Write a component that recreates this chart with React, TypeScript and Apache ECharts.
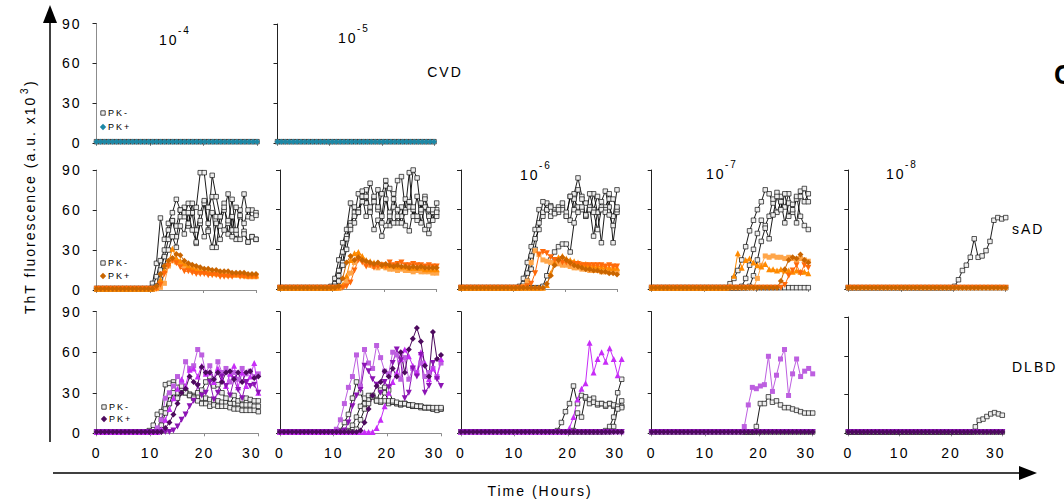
import React, { useEffect, useRef } from "react";
import * as echarts from "echarts";

// ---- sampling ----
const STEP_H = 0.75; // hours between reads
const N_POINTS = 41; // 0 .. 30 h
const BASE = 1; // flat baseline reading
const X_TICK_LABELS = ["0", "10", "20", "30"];
const Y_TICK_LABELS = ["0", "30", "60", "90"];

// ---- sAD 10^-4 (onset index, then values) ----
const SAD_E4_NEG_A = [5, 20, 54, 38, 45, 52, 40, 55, 62, 48, 58, 35, 50, 65, 45, 58, 32, 55, 65, 42, 55, 38, 60, 44, 36, 40, 38];
const SAD_E4_NEG_B = [2, 10, 22, 30, 50, 58, 68, 60, 55, 65, 58, 62, 88, 88, 62, 70, 55, 48, 60, 72, 45, 62, 55, 72, 55, 60, 58];
const SAD_E4_NEG_C = [3, 15, 25, 38, 52, 48, 60, 58, 50, 65, 45, 58, 67, 50, 86, 70, 55, 62, 50, 68, 42, 56, 50, 60, 54, 56];
const SAD_E4_NEG_D = [2, 8, 18, 30, 40, 32, 48, 42, 58, 45, 36, 52, 40, 44, 32, 50, 38, 45, 52, 40, 45, 38, 42, 36, 40, 38];
const SAD_E4_DIA = [3, 12, 18, 22, 24, 27, 26, 22, 20, 19, 18, 17, 16, 16, 15, 15, 14, 14, 14, 13, 13, 13, 13, 12, 12, 12];
const SAD_E4_TRI = [2, 8, 15, 20, 31, 24, 22, 20, 18, 17, 16, 15, 14, 14, 13, 13, 13, 12, 12, 12, 12, 12, 11, 11, 11, 11];
const SAD_E4_SQ = [2, 5, 18, 22, 21, 20, 18, 17, 16, 15, 14, 14, 13, 13, 12, 12, 12, 11, 11, 11, 11, 11, 10, 10, 10];
const SAD_E4_DOWN = [1, 4, 12, 18, 22, 20, 17, 14, 14, 13, 12, 12, 12, 11, 11, 11, 10, 10, 10, 10, 11, 10, 10, 10, 10, 10];

// ---- sAD 10^-5 ----
const SAD_E5_NEG_A = [2, 8, 22, 35, 45, 65, 58, 60, 70, 75, 60, 68, 75, 55, 78, 48, 62, 82, 85, 60, 88, 55, 70, 50, 62, 48, 58, 60];
const SAD_E5_NEG_B = [4, 14, 28, 40, 50, 55, 72, 74, 65, 80, 70, 60, 72, 82, 76, 68, 50, 55, 68, 62, 90, 84, 58, 70, 60, 52, 65];
const SAD_E5_NEG_C = [2, 10, 20, 38, 48, 62, 58, 70, 55, 62, 45, 52, 40, 48, 58, 50, 55, 62, 48, 44, 60, 52, 65, 45, 42, 58, 55];
const SAD_E5_NEG_D = [1, 6, 18, 30, 45, 50, 58, 66, 70, 58, 66, 62, 50, 68, 55, 72, 60, 50, 58, 66, 62, 55, 60, 68, 55, 60, 58];
const SAD_E5_DIA = [2, 8, 20, 25, 22, 24, 22, 21, 20, 19, 20, 18, 19, 18, 17, 18, 17, 17, 16, 17, 16, 17, 16, 16, 16, 16];
const SAD_E5_TRI = [3, 10, 22, 27, 28, 25, 22, 21, 20, 19, 19, 18, 18, 18, 17, 17, 17, 16, 16, 16, 16, 15, 15, 15, 15];
const SAD_E5_SQ = [2, 6, 12, 20, 24, 22, 19, 18, 17, 16, 17, 16, 15, 15, 14, 15, 14, 14, 13, 14, 13, 13, 13, 12, 12];
const SAD_E5_DOWN = [2, 5, 14, 22, 20, 17, 18, 16, 17, 18, 17, 20, 18, 19, 20, 18, 18, 19, 18, 18, 17, 18, 17, 17];

// ---- sAD 10^-6 ----
const SAD_E6_NEG_A = [2, 8, 20, 32, 45, 60, 55, 65, 63, 60, 58, 62, 55, 70, 72, 84, 70, 65, 60, 72, 58, 66, 74, 62, 55, 75];
const SAD_E6_NEG_B = [4, 12, 25, 38, 45, 58, 60, 55, 58, 62, 60, 58, 52, 68, 62, 60, 55, 62, 40, 58, 35, 62, 68, 35, 58];
const SAD_E6_NEG_C = [2, 6, 15, 30, 50, 66, 60, 62, 57, 60, 65, 55, 70, 60, 75, 68, 55, 72, 60, 70, 62, 60, 72, 68, 60];
const SAD_E6_NEG_D = [2, 10, 22, 28, 32, 34, 34, 28, 50, 58, 62, 56, 60, 58, 45, 60, 58, 56, 48, 62];
const SAD_E6_DIA = [1, 4, 10, 18, 22, 24, 22, 20, 18, 17, 16, 15, 15, 14, 14, 13, 13, 12, 12, 11];
const SAD_E6_TRI = [3, 12, 20, 24, 25, 23, 22, 21, 20, 19, 19, 18, 18, 17, 17, 17, 16, 16, 16];
const SAD_E6_SQ = [2, 6, 20, 29, 26, 22, 21, 20, 20, 19, 18, 18, 17, 16, 16, 15, 15, 14, 14, 14, 13, 13, 13, 13, 13];
const SAD_E6_DOWN = [2, 4, 12, 26, 28, 27, 24, 22, 21, 20, 20, 19, 19, 19, 18, 18, 18, 18, 18, 18, 17, 18, 17, 17];

// ---- sAD 10^-7 ----
const SAD_E7_NEG_A = [1, 4, 8, 14, 22, 32, 44, 52, 60, 66, 75, 72, 65, 73, 70, 62, 72, 58, 68, 74, 66, 72];
const SAD_E7_NEG_B = [2, 8, 18, 30, 42, 52, 48, 55, 68, 58, 66, 50, 65, 60, 70, 55, 48, 45];
const SAD_E7_NEG_C = [2, 10, 22, 36, 46, 38, 56, 70, 60, 72, 55, 64, 50, 70, 76, 66];
const SAD_E7_DIA = [1, 6, 15, 22, 24, 23, 26, 22, 20];
const SAD_E7_TRI = [2, 10, 27, 16, 22, 23, 20, 18, 17, 19, 15, 15, 14, 15, 14, 14, 13, 14, 13, 13, 12];
const SAD_E7_SQ = [1, 8, 18, 25, 24, 25, 24, 24, 23, 24, 23, 22, 23, 22, 21];
const SAD_E7_DOWN = [1, 3, 10, 14, 18, 12, 18, 16];

// ---- sAD 10^-8 ----
const SAD_E8_NEG_A = [2, 7, 14, 18, 24, 38, 24, 25, 29, 36, 52, 54, 53, 54];

// ---- DLBD 10^-4 ----
const DL_E4_NEG_A = [2, 6, 14, 16, 36, 37, 38, 30, 32, 30, 29, 28, 27, 26, 26, 25, 24, 24, 23, 23, 22, 22, 22, 21, 21, 21, 20, 20];
const DL_E4_NEG_B = [3, 10, 18, 28, 36, 34, 30, 32, 28, 27, 30, 32, 38, 42, 35, 36, 30, 26, 22, 28, 24, 25, 26, 25, 24, 24];
const DL_E4_NEG_C = [2, 6, 15, 22, 30, 26, 35, 30, 28, 26, 24, 22, 22, 20, 21, 20, 20, 20, 19, 18, 18, 17, 17, 17, 17, 16];
const DL_E4_SQ = [4, 10, 26, 30, 35, 42, 38, 53, 48, 50, 62, 58, 45, 50, 40, 53, 45, 48, 38, 45, 40, 48, 44, 46, 42, 44];
const DL_E4_TRI = [3, 10, 18, 26, 33, 40, 35, 47, 48, 42, 50, 44, 45, 38, 48, 40, 35, 44, 50, 34, 45, 35, 42, 52, 30];
const DL_E4_DIA = [1, 4, 8, 14, 22, 30, 33, 42, 38, 36, 49, 45, 45, 40, 45, 38, 45, 46, 40, 45, 38, 45, 46, 41, 42];
const DL_E4_DOWN = [2, 5, 10, 14, 20, 24, 35, 28, 30, 38, 25, 30, 42, 35, 28, 40, 32, 26, 38, 35, 36, 30];

// ---- DLBD 10^-5 ----
const DL_E5_NEG_A = [2, 8, 14, 26, 38, 30, 22, 25, 27, 24, 23, 24, 22, 23, 22, 21, 22, 21, 20, 20, 19, 19, 19, 18, 18, 18];
const DL_E5_NEG_B = [2, 6, 12, 20, 26, 28, 27, 25, 24, 30, 24, 23, 22, 22, 22, 21, 20, 20, 20, 19, 19, 18, 17, 18];
const DL_E5_NEG_C = [1, 3, 10, 18, 22, 28, 24, 32, 34, 32, 24, 23, 22, 22, 21, 21, 20, 20, 19, 19, 19, 19, 19];
const DL_E5_SQ = [3, 10, 22, 34, 42, 58, 35, 62, 52, 48, 65, 56, 46, 44, 60, 58, 40, 56, 40, 48, 45, 52, 42, 45, 48, 42, 52];
const DL_E5_DIA = [2, 8, 18, 28, 35, 38, 46, 42, 48, 42, 60, 45, 62, 70, 78, 68, 50, 42, 75, 55, 58];
const DL_E5_DOWN = [2, 8, 20, 28, 32, 50, 46, 40, 36, 30, 38, 34, 52, 62, 54, 26, 30, 48, 42, 58, 30, 35, 52, 40, 35];
const DL_E5_TRI = [1, 4, 10, 20, 30, 38, 45, 55, 62, 57, 50, 45, 60, 52, 40, 48, 42, 55];

// ---- DLBD 10^-6 ----
const DL_E6_NEG_A = [2, 8, 16, 22, 35, 22, 28, 26, 22, 26, 21, 22, 20, 22, 20, 19, 20];
const DL_E6_NEG_B = [2, 15, 12, 27, 25, 23, 22, 22, 21, 22, 21, 20, 19];
const DL_E6_NEG_C = [1, 2, 5, 12, 30, 40];
const DL_E6_NEG_D = [1, 5, 18, 24];
const DL_E6_TRI = [1, 4, 12, 25, 33, 37, 67, 45, 55, 60, 53, 63, 55, 43, 55];

// ---- DLBD 10^-7 ----
const DL_E7_NEG_A = [1, 5, 22, 22, 27, 23, 24, 21, 19, 19, 18, 17, 16, 15, 15, 15];
const DL_E7_SQ = [1, 5, 21, 34, 33, 35, 36, 57, 31, 43, 55, 62, 28, 44, 55, 42, 46, 48, 44];

// ---- DLBD 10^-8 ----
const DL_E8_NEG_A = [1, 5, 10, 11, 13, 15, 16, 15, 14];

const FLAT: number[] = [];

type StyleDef = { line: string; fill: string; border: string; bw: number; symbol: string; size: number; rotate?: number; lw: number };
const STYLES: Record<string, StyleDef> = {
  neg: { line: "#000000", fill: "#eeeeee", border: "#111111", bw: 0.7, symbol: "rect", size: 4.5, lw: 0.9 },
  teal: { line: "#1d88a6", fill: "#1d88a6", border: "#1d88a6", bw: 0, symbol: "diamond", size: 6, lw: 1 },
  oDia: { line: "#c96500", fill: "#c96500", border: "#c96500", bw: 0, symbol: "diamond", size: 6, lw: 1 },
  oTri: { line: "#ff8a00", fill: "#ff8a00", border: "#ff8a00", bw: 0, symbol: "triangle", size: 6, lw: 1 },
  oSq: { line: "#ffa64a", fill: "#ffa64a", border: "#ffa64a", bw: 0, symbol: "rect", size: 5, lw: 1 },
  oDown: { line: "#ff6a0a", fill: "#ff6a0a", border: "#ff6a0a", bw: 0, symbol: "triangle", size: 6, rotate: 180, lw: 1 },
  pDia: { line: "#4d0a5e", fill: "#4d0a5e", border: "#4d0a5e", bw: 0, symbol: "diamond", size: 6, lw: 1 },
  pDown: { line: "#8c14b4", fill: "#8c14b4", border: "#8c14b4", bw: 0, symbol: "triangle", size: 6, rotate: 180, lw: 1 },
  pTri: { line: "#c72cf7", fill: "#c72cf7", border: "#c72cf7", bw: 0, symbol: "triangle", size: 6, lw: 1 },
  pSq: { line: "#bd5fe0", fill: "#bd5fe0", border: "#bd5fe0", bw: 0, symbol: "rect", size: 5, lw: 1 },
};

// [styleKey, onset index, values]
type Trace = [string, number, number[]];
const PANELS: { row: number; col: number; box: [number, number, number, number]; traces: Trace[] }[] = [
  { row: 1, col: 1, box: [96.5, 23.5, 160.5, 119.5], traces: [["neg", N_POINTS, FLAT], ["teal", N_POINTS, FLAT]] },
  { row: 1, col: 2, box: [277.5, 24, 156.5, 119], traces: [["neg", N_POINTS, FLAT], ["teal", N_POINTS, FLAT]] },
  {
    row: 2, col: 1, box: [96.7, 170, 159.3, 120],
    traces: [["neg", 14, SAD_E4_NEG_A], ["neg", 14, SAD_E4_NEG_B], ["neg", 15, SAD_E4_NEG_C], ["neg", 15, SAD_E4_NEG_D],
      ["oSq", 16, SAD_E4_SQ], ["oTri", 15, SAD_E4_TRI], ["oDown", 15, SAD_E4_DOWN], ["oDia", 15, SAD_E4_DIA]],
  },
  {
    row: 2, col: 2, box: [280, 170, 156.7, 119],
    traces: [["neg", 13, SAD_E5_NEG_A], ["neg", 14, SAD_E5_NEG_B], ["neg", 14, SAD_E5_NEG_C], ["neg", 14, SAD_E5_NEG_D],
      ["oSq", 16, SAD_E5_SQ], ["oTri", 16, SAD_E5_TRI], ["oDown", 17, SAD_E5_DOWN], ["oDia", 15, SAD_E5_DIA]],
  },
  {
    row: 2, col: 3, box: [461, 170, 156, 119],
    traces: [["neg", 15, SAD_E6_NEG_A], ["neg", 16, SAD_E6_NEG_B], ["neg", 16, SAD_E6_NEG_C], ["neg", 21, SAD_E6_NEG_D],
      ["oSq", 16, SAD_E6_SQ], ["oTri", 22, SAD_E6_TRI], ["oDown", 17, SAD_E6_DOWN], ["oDia", 21, SAD_E6_DIA]],
  },
  {
    row: 2, col: 4, box: [651.7, 170, 156.6, 119],
    traces: [["neg", N_POINTS, FLAT], ["neg", 19, SAD_E7_NEG_A], ["neg", 23, SAD_E7_NEG_B], ["neg", 25, SAD_E7_NEG_C],
      ["oSq", 26, SAD_E7_SQ], ["oTri", 20, SAD_E7_TRI], ["oDown", 33, SAD_E7_DOWN], ["oDia", 32, SAD_E7_DIA]],
  },
  {
    row: 2, col: 5, box: [848.3, 170, 157.4, 119],
    traces: [["neg", N_POINTS, FLAT], ["neg", 27, SAD_E8_NEG_A], ["oSq", N_POINTS, FLAT], ["oDown", N_POINTS, FLAT], ["oDia", N_POINTS, FLAT]],
  },
  {
    row: 3, col: 1, box: [96.7, 311.7, 161.6, 121.6],
    traces: [["neg", 13, DL_E4_NEG_A], ["neg", 15, DL_E4_NEG_B], ["neg", 15, DL_E4_NEG_C],
      ["pSq", 15, DL_E4_SQ], ["pTri", 16, DL_E4_TRI], ["pDown", 19, DL_E4_DOWN], ["pDia", 16, DL_E4_DIA]],
  },
  {
    row: 3, col: 2, box: [280, 311.7, 161, 121.6],
    traces: [["neg", 15, DL_E5_NEG_A], ["neg", 17, DL_E5_NEG_B], ["neg", 18, DL_E5_NEG_C],
      ["pSq", 14, DL_E5_SQ], ["pTri", 23, DL_E5_TRI], ["pDown", 16, DL_E5_DOWN], ["pDia", 20, DL_E5_DIA]],
  },
  {
    row: 3, col: 3, box: [461, 311.7, 160.7, 121.6],
    traces: [["neg", 24, DL_E6_NEG_A], ["neg", 28, DL_E6_NEG_B], ["neg", 35, DL_E6_NEG_C], ["neg", 37, DL_E6_NEG_D],
      ["pTri", 26, DL_E6_TRI], ["pSq", N_POINTS, FLAT], ["pDown", N_POINTS, FLAT], ["pDia", N_POINTS, FLAT]],
  },
  {
    row: 3, col: 4, box: [651.7, 311.7, 161, 121.6],
    traces: [["neg", N_POINTS, FLAT], ["neg", 25, DL_E7_NEG_A], ["pSq", 22, DL_E7_SQ], ["pDown", N_POINTS, FLAT], ["pDia", N_POINTS, FLAT]],
  },
  {
    row: 3, col: 5, box: [848.3, 317, 154, 116.3],
    traces: [["neg", N_POINTS, FLAT], ["neg", 32, DL_E8_NEG_A], ["pDown", N_POINTS, FLAT], ["pDia", N_POINTS, FLAT]],
  },
];

const FONT = '"Liberation Sans", Arial, sans-serif';

function buildOption() {
  const times: number[] = [];
  for (let i = 0; i < N_POINTS; i++) times.push(i * STEP_H);

  const grid: any[] = [];
  const xAxis: any[] = [];
  const yAxis: any[] = [];
  const series: any[] = [];

  PANELS.forEach((p, gi) => {
    const [l, t, w, h] = p.box;
    grid.push({ left: l, top: t, width: w, height: h, containLabel: false });
    const xCol = "#8c8c8c";
    xAxis.push({
      gridIndex: gi, type: "value", min: 0, max: 30, interval: 10,
      axisLine: { show: true, onZero: false, lineStyle: { color: xCol, width: 1 } },
      axisTick: { show: true, length: 3, lineStyle: { color: xCol } },
      splitLine: { show: false },
      axisLabel: {
        show: p.row === 3, fontSize: 14, fontFamily: FONT, color: "#000", margin: 13,
        formatter: (v: number) => {
          const s = X_TICK_LABELS[Math.round(v / 10)];
          return v === 30 ? "{r|" + s + "}" : s;
        },
        rich: { r: { fontSize: 14, fontFamily: FONT, color: "#000", padding: [0, 13, 0, 0] } },
      },
    });
    const yCol = p.col === 1 ? "#8c8c8c" : "#222";
    yAxis.push({
      gridIndex: gi, type: "value", min: 0, max: 90, interval: 30,
      axisLine: { show: true, lineStyle: { color: yCol, width: 1 } },
      axisTick: { show: true, length: 4, lineStyle: { color: "#222" } },
      splitLine: { show: false },
      axisLabel: {
        show: p.col === 1, fontSize: 14, fontFamily: FONT, color: "#000", margin: 15,
        formatter: (v: number) => Y_TICK_LABELS[Math.round(v / 30)],
      },
    });
    p.traces.forEach(([key, start, vals]) => {
      const st = STYLES[key];
      const data: number[][] = [];
      for (let i = 0; i < N_POINTS; i++) {
        const v = i < start ? BASE : vals[i - start];
        if (v === undefined) continue;
        data.push([times[i], v]);
      }
      series.push({
        type: "line", xAxisIndex: gi, yAxisIndex: gi, data,
        symbol: st.symbol, symbolSize: st.size, symbolRotate: st.rotate || 0, showSymbol: true,
        lineStyle: { color: st.line, width: st.lw },
        itemStyle: { color: st.fill, borderColor: st.border, borderWidth: st.bw },
        emphasis: { disabled: true }, silent: true, clip: false,
      });
    });
  });

  const txt = (x: number, y: number, text: string, size: number, align = "left", extra: any = {}) => ({
    type: "text", x, y,
    style: { text, fontSize: size, fontFamily: FONT, fill: "#000", align, verticalAlign: "middle", ...extra },
  });
  const sup = (x: number, y: number, exp: string) => [
    txt(x, y, "10", 14),
    txt(x + 19, y - 10, exp, 10),
  ];
  const legend = (y1: number, y2: number, color: string, x = 103) => [
    { type: "rect", shape: { x: x - 2.2, y: y1 - 2.2, width: 4.4, height: 4.4 }, style: { fill: "#eeeeee", stroke: "#000", lineWidth: 0.7 } },
    txt(x + 5, y1, "PK-", 9),
    { type: "polygon", shape: { points: [[x, y2 - 3.2], [x + 3.2, y2], [x, y2 + 3.2], [x - 3.2, y2]] }, style: { fill: color } },
    txt(x + 5, y2, "PK+", 9),
  ];

  const graphic: any[] = [
    // big axes arrows
    { type: "line", shape: { x1: 50, y1: 442, x2: 50, y2: 20 }, style: { stroke: "#000", lineWidth: 1.5 } },
    { type: "polygon", shape: { points: [[43, 23], [57, 23], [50, 5]] }, style: { fill: "#000" } },
    { type: "line", shape: { x1: 53, y1: 473, x2: 1022, y2: 473 }, style: { stroke: "#000", lineWidth: 1.5 } },
    { type: "polygon", shape: { points: [[1019, 466], [1019, 480], [1037, 473]] }, style: { fill: "#000" } },
    // axis titles
    {
      type: "group", x: 30, y: 197, rotation: Math.PI / 2,
      children: [
        txt(-117, 0, "ThT fluorescence (a.u. x10", 14),
        txt(103, -6, "3", 10),
        txt(111, 0, ")", 14),
      ],
    },
    txt(540, 491, "Time (Hours)", 14, "center"),
    // panel titles
    ...sup(159, 40, "-4"),
    ...sup(338, 38, "-5"),
    ...sup(520, 175, "-6"),
    ...sup(706, 174, "-7"),
    ...sup(886, 174, "-8"),
    txt(445, 72, "CVD", 14, "center"),
    txt(1012, 229, "sAD", 14),
    txt(1012, 367, "DLBD", 14),
    txt(1054, 75, "C", 27, "left", { fontWeight: "bold" }),
    // legends
    ...legend(113, 127, "#1d88a6"),
    ...legend(263, 276, "#c96500"),
    ...legend(407, 419, "#4d0a5e", 104),
  ];

  return { animation: false, backgroundColor: "#ffffff", grid, xAxis, yAxis, series, graphic };
}

export default function App() {
  const ref = useRef<HTMLDivElement>(null);
  useEffect(() => {
    if (!ref.current) return;
    const chart = echarts.init(ref.current, undefined, { renderer: "svg" });
    chart.setOption(buildOption() as any);
    return () => chart.dispose();
  }, []);
  return (
    <>
      <style>{`#chartbox text { letter-spacing: 2px; }`}</style>
      <div id="chartbox" ref={ref} style={{ position: "absolute", left: 0, top: 0, width: 1064, height: 504, background: "#fff" }} />
    </>
  );
}
